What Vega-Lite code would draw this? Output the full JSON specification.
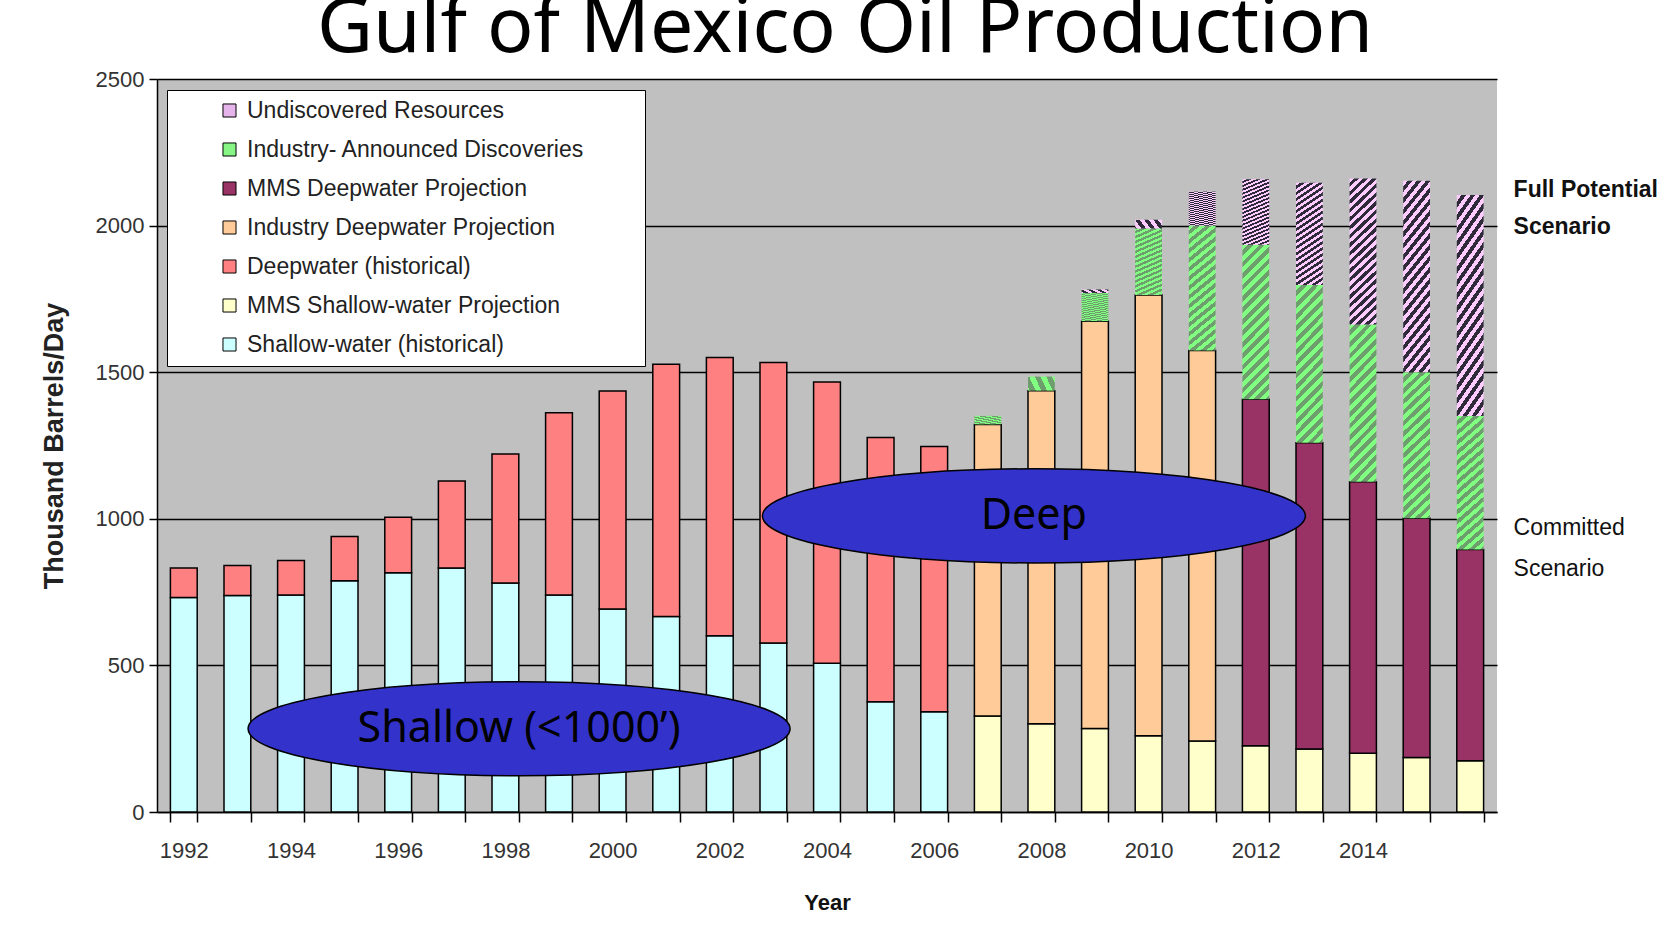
{
  "$schema": "https://vega.github.io/schema/vega-lite/v6.json",
  "width": 1340,
  "height": 733,
  "autosize": {"type": "none"},
  "padding": {"left": 157, "top": 79, "right": 183, "bottom": 118},
  "background": "white",
  "title": {"text": "Gulf of Mexico Oil Production", "font": "Noto Sans", "fontSize": 77, "fontWeight": "normal", "color": "black", "anchor": "middle", "frame": "group", "dx": 18, "baseline": "alphabetic", "offset": -61},
  "config": {
    "view": {"fill": "#C0C0C0", "stroke": null},
    "font": "Liberation Sans"
  },
  "data": {"values": [
    {"year": 1992, "category": "Shallow-water (historical)", "ord": 1, "value": 732},
    {"year": 1992, "category": "Deepwater (historical)", "ord": 3, "value": 100},
    {"year": 1993, "category": "Shallow-water (historical)", "ord": 1, "value": 738},
    {"year": 1993, "category": "Deepwater (historical)", "ord": 3, "value": 103},
    {"year": 1994, "category": "Shallow-water (historical)", "ord": 1, "value": 740},
    {"year": 1994, "category": "Deepwater (historical)", "ord": 3, "value": 118},
    {"year": 1995, "category": "Shallow-water (historical)", "ord": 1, "value": 789},
    {"year": 1995, "category": "Deepwater (historical)", "ord": 3, "value": 151},
    {"year": 1996, "category": "Shallow-water (historical)", "ord": 1, "value": 816},
    {"year": 1996, "category": "Deepwater (historical)", "ord": 3, "value": 189},
    {"year": 1997, "category": "Shallow-water (historical)", "ord": 1, "value": 832},
    {"year": 1997, "category": "Deepwater (historical)", "ord": 3, "value": 297},
    {"year": 1998, "category": "Shallow-water (historical)", "ord": 1, "value": 781},
    {"year": 1998, "category": "Deepwater (historical)", "ord": 3, "value": 440},
    {"year": 1999, "category": "Shallow-water (historical)", "ord": 1, "value": 740},
    {"year": 1999, "category": "Deepwater (historical)", "ord": 3, "value": 622},
    {"year": 2000, "category": "Shallow-water (historical)", "ord": 1, "value": 692},
    {"year": 2000, "category": "Deepwater (historical)", "ord": 3, "value": 744},
    {"year": 2001, "category": "Shallow-water (historical)", "ord": 1, "value": 667},
    {"year": 2001, "category": "Deepwater (historical)", "ord": 3, "value": 860},
    {"year": 2002, "category": "Shallow-water (historical)", "ord": 1, "value": 601},
    {"year": 2002, "category": "Deepwater (historical)", "ord": 3, "value": 949},
    {"year": 2003, "category": "Shallow-water (historical)", "ord": 1, "value": 576},
    {"year": 2003, "category": "Deepwater (historical)", "ord": 3, "value": 957},
    {"year": 2004, "category": "Shallow-water (historical)", "ord": 1, "value": 507},
    {"year": 2004, "category": "Deepwater (historical)", "ord": 3, "value": 960},
    {"year": 2005, "category": "Shallow-water (historical)", "ord": 1, "value": 376},
    {"year": 2005, "category": "Deepwater (historical)", "ord": 3, "value": 901},
    {"year": 2006, "category": "Shallow-water (historical)", "ord": 1, "value": 342},
    {"year": 2006, "category": "Deepwater (historical)", "ord": 3, "value": 905},
    {"year": 2007, "category": "MMS Shallow-water Projection", "ord": 2, "value": 327},
    {"year": 2007, "category": "Industry Deepwater Projection", "ord": 4, "value": 995},
    {"year": 2007, "category": "Industry- Announced Discoveries", "ord": 6, "value": 29},
    {"year": 2008, "category": "MMS Shallow-water Projection", "ord": 2, "value": 301},
    {"year": 2008, "category": "Industry Deepwater Projection", "ord": 4, "value": 1136},
    {"year": 2008, "category": "Industry- Announced Discoveries", "ord": 6, "value": 48},
    {"year": 2009, "category": "MMS Shallow-water Projection", "ord": 2, "value": 285},
    {"year": 2009, "category": "Industry Deepwater Projection", "ord": 4, "value": 1389},
    {"year": 2009, "category": "Industry- Announced Discoveries", "ord": 6, "value": 96},
    {"year": 2009, "category": "Undiscovered Resources", "ord": 7, "value": 12},
    {"year": 2010, "category": "MMS Shallow-water Projection", "ord": 2, "value": 260},
    {"year": 2010, "category": "Industry Deepwater Projection", "ord": 4, "value": 1503},
    {"year": 2010, "category": "Industry- Announced Discoveries", "ord": 6, "value": 227},
    {"year": 2010, "category": "Undiscovered Resources", "ord": 7, "value": 30},
    {"year": 2011, "category": "MMS Shallow-water Projection", "ord": 2, "value": 242},
    {"year": 2011, "category": "Industry Deepwater Projection", "ord": 4, "value": 1332},
    {"year": 2011, "category": "Industry- Announced Discoveries", "ord": 6, "value": 426},
    {"year": 2011, "category": "Undiscovered Resources", "ord": 7, "value": 116},
    {"year": 2012, "category": "MMS Shallow-water Projection", "ord": 2, "value": 226},
    {"year": 2012, "category": "MMS Deepwater Projection", "ord": 5, "value": 1182},
    {"year": 2012, "category": "Industry- Announced Discoveries", "ord": 6, "value": 527},
    {"year": 2012, "category": "Undiscovered Resources", "ord": 7, "value": 223},
    {"year": 2013, "category": "MMS Shallow-water Projection", "ord": 2, "value": 215},
    {"year": 2013, "category": "MMS Deepwater Projection", "ord": 5, "value": 1044},
    {"year": 2013, "category": "Industry- Announced Discoveries", "ord": 6, "value": 538},
    {"year": 2013, "category": "Undiscovered Resources", "ord": 7, "value": 349},
    {"year": 2014, "category": "MMS Shallow-water Projection", "ord": 2, "value": 200},
    {"year": 2014, "category": "MMS Deepwater Projection", "ord": 5, "value": 926},
    {"year": 2014, "category": "Industry- Announced Discoveries", "ord": 6, "value": 537},
    {"year": 2014, "category": "Undiscovered Resources", "ord": 7, "value": 498},
    {"year": 2015, "category": "MMS Shallow-water Projection", "ord": 2, "value": 186},
    {"year": 2015, "category": "MMS Deepwater Projection", "ord": 5, "value": 816},
    {"year": 2015, "category": "Industry- Announced Discoveries", "ord": 6, "value": 498},
    {"year": 2015, "category": "Undiscovered Resources", "ord": 7, "value": 653},
    {"year": 2016, "category": "MMS Shallow-water Projection", "ord": 2, "value": 175},
    {"year": 2016, "category": "MMS Deepwater Projection", "ord": 5, "value": 720},
    {"year": 2016, "category": "Industry- Announced Discoveries", "ord": 6, "value": 456},
    {"year": 2016, "category": "Undiscovered Resources", "ord": 7, "value": 753}
  ]},
  "layer": [
    {
      "transform": [
        {"stack": "value", "groupby": ["year"], "sort": [{"field": "ord", "order": "ascending"}], "as": ["v0", "v1"]},
        {"filter": "datum.ord <= 5"}
      ],
      "mark": {"type": "bar", "stroke": "black", "strokeWidth": 1.5, "opacity": 1},
      "encoding": {
        "x": {
          "field": "year", "type": "ordinal",
          "scale": {"paddingInner": 0.5, "paddingOuter": 0.25},
          "axis": {
            "title": "Year", "titleFontSize": 22, "titleFontWeight": "bold", "titleColor": "#111", "titlePadding": 31,
            "labelExpr": "datum.value % 2 == 0 && datum.value < 2016 ? datum.label : ''",
            "labelAngle": 0, "labelFontSize": 22, "labelColor": "#333", "labelPadding": 18, "labelOverlap": false,
            "tickBand": "extent", "tickSize": 10, "tickColor": "black", "tickWidth": 1.5,
            "domainColor": "black", "domainWidth": 1.5, "grid": false
          }
        },
        "y": {
          "field": "v1", "type": "quantitative",
          "scale": {"domain": [0, 2500], "nice": false},
          "axis": {
            "title": "Thousand Barrels/Day", "titleFontSize": 27, "titleFontWeight": "bold", "titleColor": "#222", "titlePadding": 27,
            "values": [0, 500, 1000, 1500, 2000, 2500], "format": "d",
            "grid": true, "gridColor": "black", "gridWidth": 1.5,
            "labelFontSize": 22, "labelColor": "#333", "labelPadding": 5, "labelFlush": false,
            "tickSize": 8, "tickColor": "black", "tickWidth": 1.5,
            "domainColor": "black", "domainWidth": 1.5
          }
        },
        "y2": {"field": "v0"},
        "color": {
          "field": "category", "type": "nominal",
          "scale": {
            "domain": ["Undiscovered Resources", "Industry- Announced Discoveries", "MMS Deepwater Projection", "Industry Deepwater Projection", "Deepwater (historical)", "MMS Shallow-water Projection", "Shallow-water (historical)"],
            "range": ["#E4B4EA", "#86F586", "#993366", "#FFCC99", "#FF8080", "#FFFFCC", "#CCFFFF"]
          },
          "legend": {
            "title": null, "orient": "none", "legendX": 10, "legendY": 11, "direction": "vertical",
            "fillColor": "white", "strokeColor": "black", "padding": 9,
            "symbolType": "square", "symbolSize": 170, "symbolStrokeColor": "black", "symbolStrokeWidth": 1, "symbolOffset": 42,
            "labelFontSize": 23, "labelColor": "#222", "labelOffset": 6, "rowPadding": 15, "labelLimit": 700,
            "labelExpr": "datum.label + '\u2800\u2800\u2800'"
          }
        }
      }
    },
    {
      "transform": [
        {"stack": "value", "groupby": ["year"], "sort": [{"field": "ord", "order": "ascending"}], "as": ["v0", "v1"]},
        {"filter": "datum.ord == 6"}
      ],
      "mark": {"type": "bar", "opacity": 1, "strokeWidth": 0, "fill": {"gradient": "linear", "x1": 0, "y1": 0, "x2": 0.2, "y2": 1.15, "stops": [
        {"offset": 0, "color": "#80FF80"}, {"offset": 0.03125, "color": "#80FF80"}, {"offset": 0.03125, "color": "#6E9E6E"}, {"offset": 0.0625, "color": "#6E9E6E"},
        {"offset": 0.0625, "color": "#80FF80"}, {"offset": 0.09375, "color": "#80FF80"}, {"offset": 0.09375, "color": "#6E9E6E"}, {"offset": 0.125, "color": "#6E9E6E"},
        {"offset": 0.125, "color": "#80FF80"}, {"offset": 0.15625, "color": "#80FF80"}, {"offset": 0.15625, "color": "#6E9E6E"}, {"offset": 0.1875, "color": "#6E9E6E"},
        {"offset": 0.1875, "color": "#80FF80"}, {"offset": 0.21875, "color": "#80FF80"}, {"offset": 0.21875, "color": "#6E9E6E"}, {"offset": 0.25, "color": "#6E9E6E"},
        {"offset": 0.25, "color": "#80FF80"}, {"offset": 0.28125, "color": "#80FF80"}, {"offset": 0.28125, "color": "#6E9E6E"}, {"offset": 0.3125, "color": "#6E9E6E"},
        {"offset": 0.3125, "color": "#80FF80"}, {"offset": 0.34375, "color": "#80FF80"}, {"offset": 0.34375, "color": "#6E9E6E"}, {"offset": 0.375, "color": "#6E9E6E"},
        {"offset": 0.375, "color": "#80FF80"}, {"offset": 0.40625, "color": "#80FF80"}, {"offset": 0.40625, "color": "#6E9E6E"}, {"offset": 0.4375, "color": "#6E9E6E"},
        {"offset": 0.4375, "color": "#80FF80"}, {"offset": 0.46875, "color": "#80FF80"}, {"offset": 0.46875, "color": "#6E9E6E"}, {"offset": 0.5, "color": "#6E9E6E"},
        {"offset": 0.5, "color": "#80FF80"}, {"offset": 0.53125, "color": "#80FF80"}, {"offset": 0.53125, "color": "#6E9E6E"}, {"offset": 0.5625, "color": "#6E9E6E"},
        {"offset": 0.5625, "color": "#80FF80"}, {"offset": 0.59375, "color": "#80FF80"}, {"offset": 0.59375, "color": "#6E9E6E"}, {"offset": 0.625, "color": "#6E9E6E"},
        {"offset": 0.625, "color": "#80FF80"}, {"offset": 0.65625, "color": "#80FF80"}, {"offset": 0.65625, "color": "#6E9E6E"}, {"offset": 0.6875, "color": "#6E9E6E"},
        {"offset": 0.6875, "color": "#80FF80"}, {"offset": 0.71875, "color": "#80FF80"}, {"offset": 0.71875, "color": "#6E9E6E"}, {"offset": 0.75, "color": "#6E9E6E"},
        {"offset": 0.75, "color": "#80FF80"}, {"offset": 0.78125, "color": "#80FF80"}, {"offset": 0.78125, "color": "#6E9E6E"}, {"offset": 0.8125, "color": "#6E9E6E"},
        {"offset": 0.8125, "color": "#80FF80"}, {"offset": 0.84375, "color": "#80FF80"}, {"offset": 0.84375, "color": "#6E9E6E"}, {"offset": 0.875, "color": "#6E9E6E"},
        {"offset": 0.875, "color": "#80FF80"}, {"offset": 0.90625, "color": "#80FF80"}, {"offset": 0.90625, "color": "#6E9E6E"}, {"offset": 0.9375, "color": "#6E9E6E"},
        {"offset": 0.9375, "color": "#80FF80"}, {"offset": 0.96875, "color": "#80FF80"}, {"offset": 0.96875, "color": "#6E9E6E"}, {"offset": 1, "color": "#6E9E6E"}
      ]}},
      "encoding": {
        "x": {"field": "year", "type": "ordinal"},
        "y": {"field": "v1", "type": "quantitative"},
        "y2": {"field": "v0"}
      }
    },
    {
      "transform": [
        {"stack": "value", "groupby": ["year"], "sort": [{"field": "ord", "order": "ascending"}], "as": ["v0", "v1"]},
        {"filter": "datum.ord == 7"}
      ],
      "mark": {"type": "bar", "opacity": 1, "strokeWidth": 0, "fill": {"gradient": "linear", "x1": 0, "y1": 0, "x2": 0.2, "y2": 1.15, "stops": [
        {"offset": 0, "color": "#FFCCFF"}, {"offset": 0.025, "color": "#FFCCFF"}, {"offset": 0.025, "color": "#2E2A3A"}, {"offset": 0.05, "color": "#2E2A3A"},
        {"offset": 0.05, "color": "#FFCCFF"}, {"offset": 0.075, "color": "#FFCCFF"}, {"offset": 0.075, "color": "#2E2A3A"}, {"offset": 0.1, "color": "#2E2A3A"},
        {"offset": 0.1, "color": "#FFCCFF"}, {"offset": 0.125, "color": "#FFCCFF"}, {"offset": 0.125, "color": "#2E2A3A"}, {"offset": 0.15, "color": "#2E2A3A"},
        {"offset": 0.15, "color": "#FFCCFF"}, {"offset": 0.175, "color": "#FFCCFF"}, {"offset": 0.175, "color": "#2E2A3A"}, {"offset": 0.2, "color": "#2E2A3A"},
        {"offset": 0.2, "color": "#FFCCFF"}, {"offset": 0.225, "color": "#FFCCFF"}, {"offset": 0.225, "color": "#2E2A3A"}, {"offset": 0.25, "color": "#2E2A3A"},
        {"offset": 0.25, "color": "#FFCCFF"}, {"offset": 0.275, "color": "#FFCCFF"}, {"offset": 0.275, "color": "#2E2A3A"}, {"offset": 0.3, "color": "#2E2A3A"},
        {"offset": 0.3, "color": "#FFCCFF"}, {"offset": 0.325, "color": "#FFCCFF"}, {"offset": 0.325, "color": "#2E2A3A"}, {"offset": 0.35, "color": "#2E2A3A"},
        {"offset": 0.35, "color": "#FFCCFF"}, {"offset": 0.375, "color": "#FFCCFF"}, {"offset": 0.375, "color": "#2E2A3A"}, {"offset": 0.4, "color": "#2E2A3A"},
        {"offset": 0.4, "color": "#FFCCFF"}, {"offset": 0.425, "color": "#FFCCFF"}, {"offset": 0.425, "color": "#2E2A3A"}, {"offset": 0.45, "color": "#2E2A3A"},
        {"offset": 0.45, "color": "#FFCCFF"}, {"offset": 0.475, "color": "#FFCCFF"}, {"offset": 0.475, "color": "#2E2A3A"}, {"offset": 0.5, "color": "#2E2A3A"},
        {"offset": 0.5, "color": "#FFCCFF"}, {"offset": 0.525, "color": "#FFCCFF"}, {"offset": 0.525, "color": "#2E2A3A"}, {"offset": 0.55, "color": "#2E2A3A"},
        {"offset": 0.55, "color": "#FFCCFF"}, {"offset": 0.575, "color": "#FFCCFF"}, {"offset": 0.575, "color": "#2E2A3A"}, {"offset": 0.6, "color": "#2E2A3A"},
        {"offset": 0.6, "color": "#FFCCFF"}, {"offset": 0.625, "color": "#FFCCFF"}, {"offset": 0.625, "color": "#2E2A3A"}, {"offset": 0.65, "color": "#2E2A3A"},
        {"offset": 0.65, "color": "#FFCCFF"}, {"offset": 0.675, "color": "#FFCCFF"}, {"offset": 0.675, "color": "#2E2A3A"}, {"offset": 0.7, "color": "#2E2A3A"},
        {"offset": 0.7, "color": "#FFCCFF"}, {"offset": 0.725, "color": "#FFCCFF"}, {"offset": 0.725, "color": "#2E2A3A"}, {"offset": 0.75, "color": "#2E2A3A"},
        {"offset": 0.75, "color": "#FFCCFF"}, {"offset": 0.775, "color": "#FFCCFF"}, {"offset": 0.775, "color": "#2E2A3A"}, {"offset": 0.8, "color": "#2E2A3A"},
        {"offset": 0.8, "color": "#FFCCFF"}, {"offset": 0.825, "color": "#FFCCFF"}, {"offset": 0.825, "color": "#2E2A3A"}, {"offset": 0.85, "color": "#2E2A3A"},
        {"offset": 0.85, "color": "#FFCCFF"}, {"offset": 0.875, "color": "#FFCCFF"}, {"offset": 0.875, "color": "#2E2A3A"}, {"offset": 0.9, "color": "#2E2A3A"},
        {"offset": 0.9, "color": "#FFCCFF"}, {"offset": 0.925, "color": "#FFCCFF"}, {"offset": 0.925, "color": "#2E2A3A"}, {"offset": 0.95, "color": "#2E2A3A"},
        {"offset": 0.95, "color": "#FFCCFF"}, {"offset": 0.975, "color": "#FFCCFF"}, {"offset": 0.975, "color": "#2E2A3A"}, {"offset": 1, "color": "#2E2A3A"}
      ]}},
      "encoding": {
        "x": {"field": "year", "type": "ordinal"},
        "y": {"field": "v1", "type": "quantitative"},
        "y2": {"field": "v0"}
      }
    },
    {
      "data": {"values": [{"year": 1998, "value": 284, "label": "Shallow (<1000’)"}]},
      "encoding": {
        "x": {"field": "year", "type": "ordinal", "bandPosition": 1.01},
        "y": {"field": "value", "type": "quantitative"}
      },
      "layer": [
        {"mark": {"type": "point", "shape": "M-1,0A1,0.1734,0,1,0,1,0A1,0.1734,0,1,0,-1,0Z", "size": 293764, "filled": true, "fill": "#3333CC", "stroke": "black", "strokeWidth": 1.5, "opacity": 1}},
        {"mark": {"type": "text", "font": "Noto Sans", "fontSize": 43, "color": "black", "align": "center", "baseline": "middle"}, "encoding": {"text": {"field": "label"}}}
      ]
    },
    {
      "data": {"values": [{"year": 2008, "value": 1010, "label": "Deep"}]},
      "encoding": {
        "x": {"field": "year", "type": "ordinal", "bandPosition": 0.22},
        "y": {"field": "value", "type": "quantitative"}
      },
      "layer": [
        {"mark": {"type": "point", "shape": "M-1,0A1,0.1734,0,1,0,1,0A1,0.1734,0,1,0,-1,0Z", "size": 294849, "filled": true, "fill": "#3333CC", "stroke": "black", "strokeWidth": 1.5, "opacity": 1}},
        {"mark": {"type": "text", "font": "Noto Sans", "fontSize": 43, "color": "black", "align": "center", "baseline": "middle"}, "encoding": {"text": {"field": "label"}}}
      ]
    },
    {
      "data": {"values": [{"year": 2016, "value": 2121, "label": "Full Potential"}, {"year": 2016, "value": 1995, "label": "Scenario"}]},
      "mark": {"type": "text", "font": "Liberation Sans", "fontSize": 23, "fontWeight": "bold", "color": "#111", "align": "left", "baseline": "middle"},
      "encoding": {
        "x": {"field": "year", "type": "ordinal", "bandPosition": 2.12},
        "y": {"field": "value", "type": "quantitative"},
        "text": {"field": "label"}
      }
    },
    {
      "data": {"values": [{"year": 2016, "value": 969, "label": "Committed"}, {"year": 2016, "value": 829, "label": "Scenario"}]},
      "mark": {"type": "text", "font": "Liberation Sans", "fontSize": 23, "fontWeight": "normal", "color": "#111", "align": "left", "baseline": "middle"},
      "encoding": {
        "x": {"field": "year", "type": "ordinal", "bandPosition": 2.12},
        "y": {"field": "value", "type": "quantitative"},
        "text": {"field": "label"}
      }
    }
  ]
}
